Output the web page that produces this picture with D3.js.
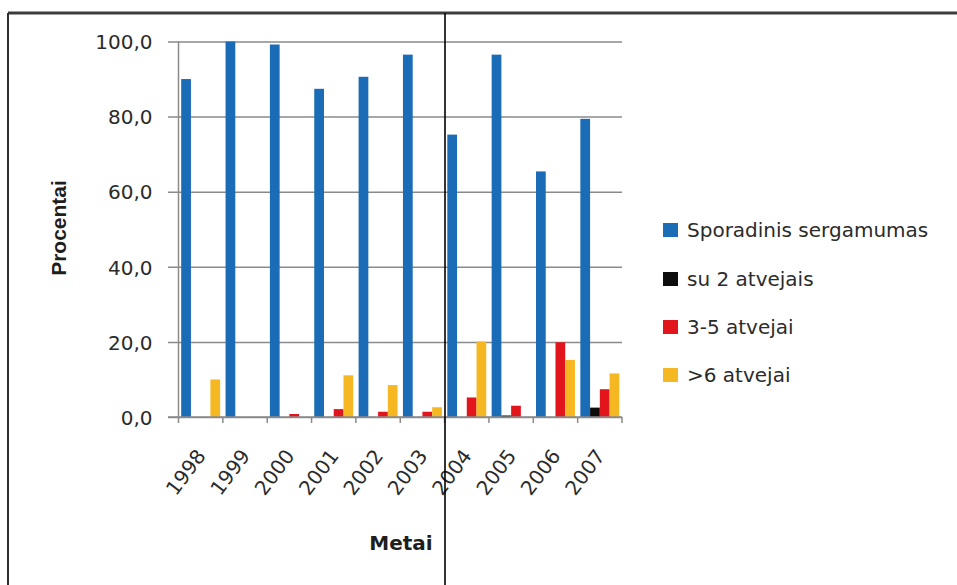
<!DOCTYPE html>
<html>
<head>
<meta charset="utf-8">
<script src="https://cdn.jsdelivr.net/npm/d3@7"></script>
<style>
  html, body { margin: 0; padding: 0; background: #fff; }
  svg { display: block; }
</style>
</head>
<body>
<svg id="chart" width="957" height="585"></svg>
<script>
// Metai (years) on the category axis
const years = ['1998', '1999', '2000', '2001', '2002', '2003', '2004', '2005', '2006', '2007'];

// Share of cases (%) per year for each outbreak size
const sporadinis = [90.0, 100.0, 99.2, 87.4, 90.6, 96.5, 75.2, 96.5, 65.4, 79.4];
const su2 = [0, 0, 0, 0, 0, 0, 0, 0.4, 0, 2.5];
const atv3to5 = [0, 0, 0.8, 2.1, 1.4, 1.4, 5.2, 3.0, 19.9, 7.4];
const atv6plus = [10.0, 0, 0, 11.1, 8.5, 2.6, 20.1, 0, 15.2, 11.6];

const seriesNames = ['Sporadinis sergamumas', 'su 2 atvejais', '3-5 atvejai', '>6 atvejai'];
const seriesValues = [sporadinis, su2, atv3to5, atv6plus];
const seriesColors = ['#1a6cb6', '#0d0d0d', '#e2141c', '#f5b823'];

const yTicks = [0, 20, 40, 60, 80, 100];

const svg = d3.select('#chart');
const fontMain = 'DejaVu Sans, sans-serif';
const textColor = '#2b2b2b';
const gridColor = '#8a8a8a';

const plot = { left: 178.5, right: 622, top: 41.5, bottom: 417 };

const x0 = d3.scaleBand().domain(years).range([plot.left, plot.right]).paddingInner(0).paddingOuter(0);
const x1 = d3.scaleBand().domain(d3.range(seriesNames.length)).range([0, x0.bandwidth()]).paddingInner(0).paddingOuter(0.277);
const y = d3.scaleLinear().domain([0, 100]).range([plot.bottom, plot.top]);

// outer frame (top and left edges) and the divider line
svg.append('line').attr('x1', 8).attr('x2', 957).attr('y1', 13).attr('y2', 13)
  .attr('stroke', '#3c3c3c').attr('stroke-width', 3);
svg.append('line').attr('x1', 8).attr('x2', 8).attr('y1', 13).attr('y2', 585)
  .attr('stroke', '#2e2e2e').attr('stroke-width', 2);

// horizontal gridlines with left tick marks
const yAxis = d3.axisLeft(y).tickValues(yTicks)
  .tickSize(-(plot.right - plot.left)).tickSizeOuter(0)
  .tickFormat(d => d3.format('.1f')(d).replace('.', ','));
const gY = svg.append('g').attr('transform', `translate(${plot.left},0)`).call(yAxis);
gY.select('.domain').remove();
gY.selectAll('.tick line').attr('stroke', gridColor).attr('stroke-width', 1.5)
  .attr('x1', -10.5);
gY.selectAll('.tick text')
  .attr('x', -26).attr('dy', '0.36em')
  .attr('font-family', fontMain).attr('font-size', 20).attr('fill', textColor);

// bars
const groups = svg.append('g').selectAll('g')
  .data(years).join('g')
  .attr('transform', d => `translate(${x0(d)},0)`);

groups.selectAll('rect')
  .data((yr, i) => seriesValues.map((vals, s) => ({ s, v: vals[i] })))
  .join('rect')
  .filter(d => d.v > 0)
  .attr('x', d => x1(d.s))
  .attr('width', x1.bandwidth())
  .attr('y', d => y(d.v))
  .attr('height', d => y(0) - y(d.v))
  .attr('fill', d => seriesColors[d.s]);

// y axis line
svg.append('line').attr('x1', plot.left).attr('x2', plot.left)
  .attr('y1', plot.top).attr('y2', plot.bottom)
  .attr('stroke', gridColor).attr('stroke-width', 1.5);

// x axis with ticks at category boundaries
const boundaries = years.map(d => x0(d)).concat([plot.right]);
svg.append('line').attr('x1', plot.left - 10.5).attr('x2', plot.right)
  .attr('y1', plot.bottom).attr('y2', plot.bottom)
  .attr('stroke', gridColor).attr('stroke-width', 1.5);
svg.append('g').selectAll('line').data(boundaries).join('line')
  .attr('x1', d => d).attr('x2', d => d)
  .attr('y1', plot.bottom).attr('y2', plot.bottom + 6)
  .attr('stroke', gridColor).attr('stroke-width', 1.5);

// rotated year labels
svg.append('g').selectAll('text').data(years).join('text')
  .attr('transform', d => `translate(${x0(d) + x0.bandwidth() / 2 + 6},456) rotate(-53)`)
  .attr('text-anchor', 'end')
  .attr('font-family', fontMain).attr('font-size', 20).attr('fill', textColor)
  .text(d => d);

// axis titles
svg.append('text')
  .attr('x', 401).attr('y', 550)
  .attr('text-anchor', 'middle')
  .attr('font-family', fontMain).attr('font-weight', 'bold').attr('font-size', 20)
  .attr('fill', '#1e1e1e')
  .text('Metai');

svg.append('text')
  .attr('transform', 'translate(66,228) rotate(-90)')
  .attr('text-anchor', 'middle')
  .attr('font-family', 'Liberation Sans, Arial, sans-serif').attr('font-weight', 'bold').attr('font-size', 21)
  .attr('fill', '#1e1e1e')
  .text('Procentai');

// legend
const legendRowY = [230, 279, 327, 375];
const legend = svg.append('g').selectAll('g').data(seriesNames).join('g')
  .attr('transform', (d, i) => `translate(663,${legendRowY[i]})`);
legend.append('rect')
  .attr('x', 0).attr('y', -7).attr('width', 15).attr('height', 14)
  .attr('fill', (d, i) => seriesColors[i]);
legend.append('text')
  .attr('x', 24).attr('dy', '0.36em')
  .attr('font-family', fontMain).attr('font-size', 20).attr('fill', textColor)
  .text(d => d);

// divider line drawn on top
svg.append('line').attr('x1', 445).attr('x2', 445).attr('y1', 13).attr('y2', 585)
  .attr('stroke', '#000').attr('stroke-width', 1.6);
</script>
</body>
</html>
